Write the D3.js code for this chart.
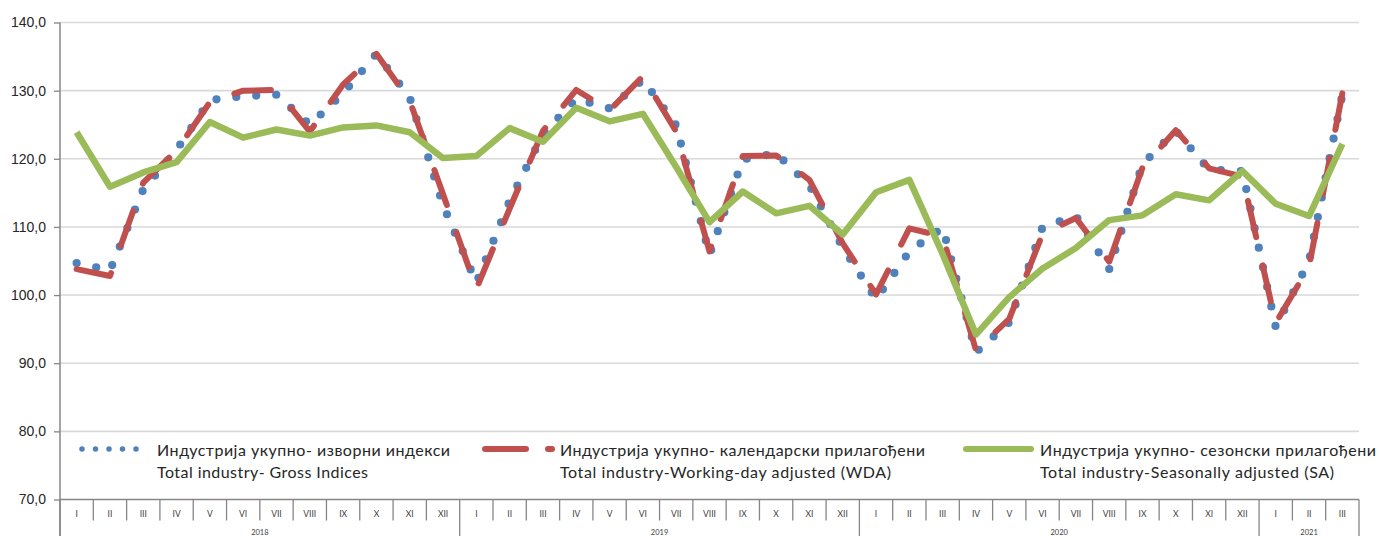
<!DOCTYPE html>
<html>
<head>
<meta charset="utf-8">
<script src="https://cdn.jsdelivr.net/npm/d3@7"></script>
<style>
  body { margin: 0; background: #fff; }
  svg { display: block; font-family: Lato, "Liberation Sans", sans-serif; }
</style>
</head>
<body>
<div id="chart"></div>
<script>
// chart area
const svgWidth = 1379;
const svgHeight = 536;
const plot = { left: 60, right: 1359, top: 22.5, bottom: 499.5 };

// data
const months = ['I', 'II', 'III', 'IV', 'V', 'VI', 'VII', 'VIII', 'IX', 'X', 'XI', 'XII'];
const years = ['2018', '2019', '2020', '2021'];
const monthsPerYear = [12, 12, 12, 3];
const yTicks = [70, 80, 90, 100, 110, 120, 130, 140];

const grossIdx = [104.7, 103.6, 115.5, 121.3, 128.6, 129.2, 129.4, 125.0, 129.6, 135.4, 129.0, 113.2,
  101.8, 113.8, 123.6, 128.8, 127.4, 131.6, 124.9, 105.9, 119.9, 120.8, 116.1, 107.0,
  99.4, 106.4, 109.9, 91.6, 96.0, 110.0, 111.6, 103.8, 119.2, 124.1, 118.4, 118.2,
  95.3, 105.0, 129.4];
const wdaIdx = [103.8, 102.8, 116.5, 121.2, 128.3, 130.0, 130.1, 124.0, 130.9, 135.4, 128.5, 114.8,
  100.9, 112.7, 124.1, 130.1, 127.1, 132.1, 124.0, 106.4, 120.4, 120.5, 116.9, 107.6,
  100.1, 109.8, 108.6, 91.9, 96.5, 109.0, 111.3, 104.9, 118.7, 124.2, 118.6, 117.4,
  95.9, 104.2, 129.6];
const saIdx = [123.9, 115.9, 118.0, 119.5, 125.4, 123.1, 124.3, 123.4, 124.6, 124.9, 123.9, 120.1,
  120.4, 124.5, 122.5, 127.5, 125.5, 126.6, 118.8, 110.7, 115.2, 112.0, 113.1, 108.9,
  115.1, 116.9, 106.0, 94.2, 99.7, 103.9, 106.9, 111.0, 111.7, 114.8, 113.9, 118.2,
  113.4, 111.6, 122.2];

const legendRu = ['Индустрија укупно- изворни индекси', 'Индустрија укупно- календарски прилагођени', 'Индустрија укупно- сезонски прилагођени'];
const legendEn = ['Total industry- Gross Indices', 'Total industry-Working-day adjusted (WDA)', 'Total industry-Seasonally adjusted (SA)'];

// category list: one per month
const cats = [];
years.forEach((yr, j) => {
  months.slice(0, monthsPerYear[j]).forEach(m => cats.push({ year: yr, month: m }));
});

const svg = d3.select('#chart')
  .append('svg')
  .attr('width', svgWidth)
  .attr('height', svgHeight);

const x = d3.scaleBand()
  .domain(d3.range(cats.length))
  .range([plot.left, plot.right])
  .padding(0);
const xc = i => x(i) + x.bandwidth() / 2;

const y = d3.scaleLinear()
  .domain([70, 140])
  .range([plot.bottom, plot.top]);

// gridlines
svg.append('g')
  .selectAll('line')
  .data(yTicks.filter(d => d > 70))
  .enter()
  .append('line')
  .attr('x1', plot.left)
  .attr('x2', plot.right)
  .attr('y1', d => y(d))
  .attr('y2', d => y(d))
  .attr('stroke', '#d9d9d9')
  .attr('stroke-width', 1.6);

// left axis
const leftAxis = d3.axisLeft(y)
  .tickValues(yTicks)
  .tickSize(6)
  .tickPadding(8)
  .tickFormat(d => d.toFixed(1).replace('.', ','));

const yAxisG = svg.append('g')
  .attr('transform', `translate(${plot.left}, 0)`)
  .call(leftAxis);
yAxisG.select('.domain').remove();
yAxisG.selectAll('line').attr('stroke', '#868686').attr('stroke-width', 1.3);
yAxisG.selectAll('text')
  .style('font-size', '14px')
  .style('fill', '#262626');

svg.append('line')
  .attr('x1', plot.left).attr('x2', plot.left)
  .attr('y1', plot.top).attr('y2', svgHeight)
  .attr('stroke', '#868686').attr('stroke-width', 1.5);

// bottom category table
svg.append('line')
  .attr('x1', plot.left).attr('x2', plot.right)
  .attr('y1', plot.bottom).attr('y2', plot.bottom)
  .attr('stroke', '#868686').attr('stroke-width', 1.5);

const yearStart = d3.cumsum([0].concat(monthsPerYear));

svg.append('g')
  .selectAll('line')
  .data(d3.range(cats.length + 1))
  .enter()
  .append('line')
  .attr('x1', i => i < cats.length ? x(i) : plot.right)
  .attr('x2', i => i < cats.length ? x(i) : plot.right)
  .attr('y1', plot.bottom)
  .attr('y2', i => yearStart.includes(i) ? svgHeight : plot.bottom + 21)
  .attr('stroke', '#868686')
  .attr('stroke-width', 1.3);

svg.append('g')
  .selectAll('text')
  .data(cats)
  .enter()
  .append('text')
  .attr('x', (d, i) => xc(i))
  .attr('y', 517)
  .attr('text-anchor', 'middle')
  .style('font-size', '8.5px')
  .style('fill', '#404040')
  .text(d => d.month);

svg.append('g')
  .selectAll('text')
  .data(years)
  .enter()
  .append('text')
  .attr('x', (d, j) => (x(yearStart[j]) + (yearStart[j + 1] < cats.length ? x(yearStart[j + 1]) : plot.right)) / 2)
  .attr('y', 535)
  .attr('text-anchor', 'middle')
  .style('font-size', '7.5px')
  .style('fill', '#404040')
  .text(d => d);

// series lines
const line = d3.line()
  .x((d, i) => xc(i))
  .y(d => y(d));

svg.append('path')
  .datum(grossIdx)
  .attr('d', line)
  .attr('fill', 'none')
  .attr('stroke', '#4f81bd')
  .attr('stroke-width', 8.2)
  .attr('stroke-linecap', 'round')
  .attr('stroke-dasharray', '0 20');

svg.append('path')
  .datum(wdaIdx)
  .attr('d', line)
  .attr('fill', 'none')
  .attr('stroke', '#c0504d')
  .attr('stroke-width', 6)
  .attr('stroke-linecap', 'round')
  .attr('stroke-linejoin', 'round')
  .attr('stroke-dasharray', '37 29');

svg.append('path')
  .datum(saIdx)
  .attr('d', line)
  .attr('fill', 'none')
  .attr('stroke', '#9bbb59')
  .attr('stroke-width', 6.5)
  .attr('stroke-linejoin', 'round');

// legend
const legendX = [157, 560, 1040];
const legendW1 = [293, 365, 336];
const legendW2 = [211, 331, 294];

const leg = svg.append('g');
// gross swatch: 5 dots
leg.append('line')
  .attr('x1', 82).attr('x2', 137)
  .attr('y1', 449).attr('y2', 449)
  .attr('stroke', '#4f81bd')
  .attr('stroke-width', 5.5)
  .attr('stroke-linecap', 'round')
  .attr('stroke-dasharray', '0 13.5');
// wda swatch
leg.append('line')
  .attr('x1', 485).attr('x2', 552)
  .attr('y1', 449).attr('y2', 449)
  .attr('stroke', '#c0504d')
  .attr('stroke-width', 6)
  .attr('stroke-linecap', 'round')
  .attr('stroke-dasharray', '41 22');
// sa swatch
leg.append('line')
  .attr('x1', 966).attr('x2', 1031)
  .attr('y1', 449).attr('y2', 449)
  .attr('stroke', '#9bbb59')
  .attr('stroke-width', 6)
  .attr('stroke-linecap', 'round');

legendRu.forEach((t, k) => {
  leg.append('text')
    .attr('x', legendX[k])
    .attr('y', 456)
    .attr('textLength', legendW1[k])
    .attr('lengthAdjust', 'spacing')
    .style('font-size', '16px')
    .style('fill', '#262626')
    .text(t);
  leg.append('text')
    .attr('x', legendX[k])
    .attr('y', 478)
    .attr('textLength', legendW2[k])
    .attr('lengthAdjust', 'spacing')
    .style('font-size', '16px')
    .style('fill', '#262626')
    .text(legendEn[k]);
});
</script>
</body>
</html>
